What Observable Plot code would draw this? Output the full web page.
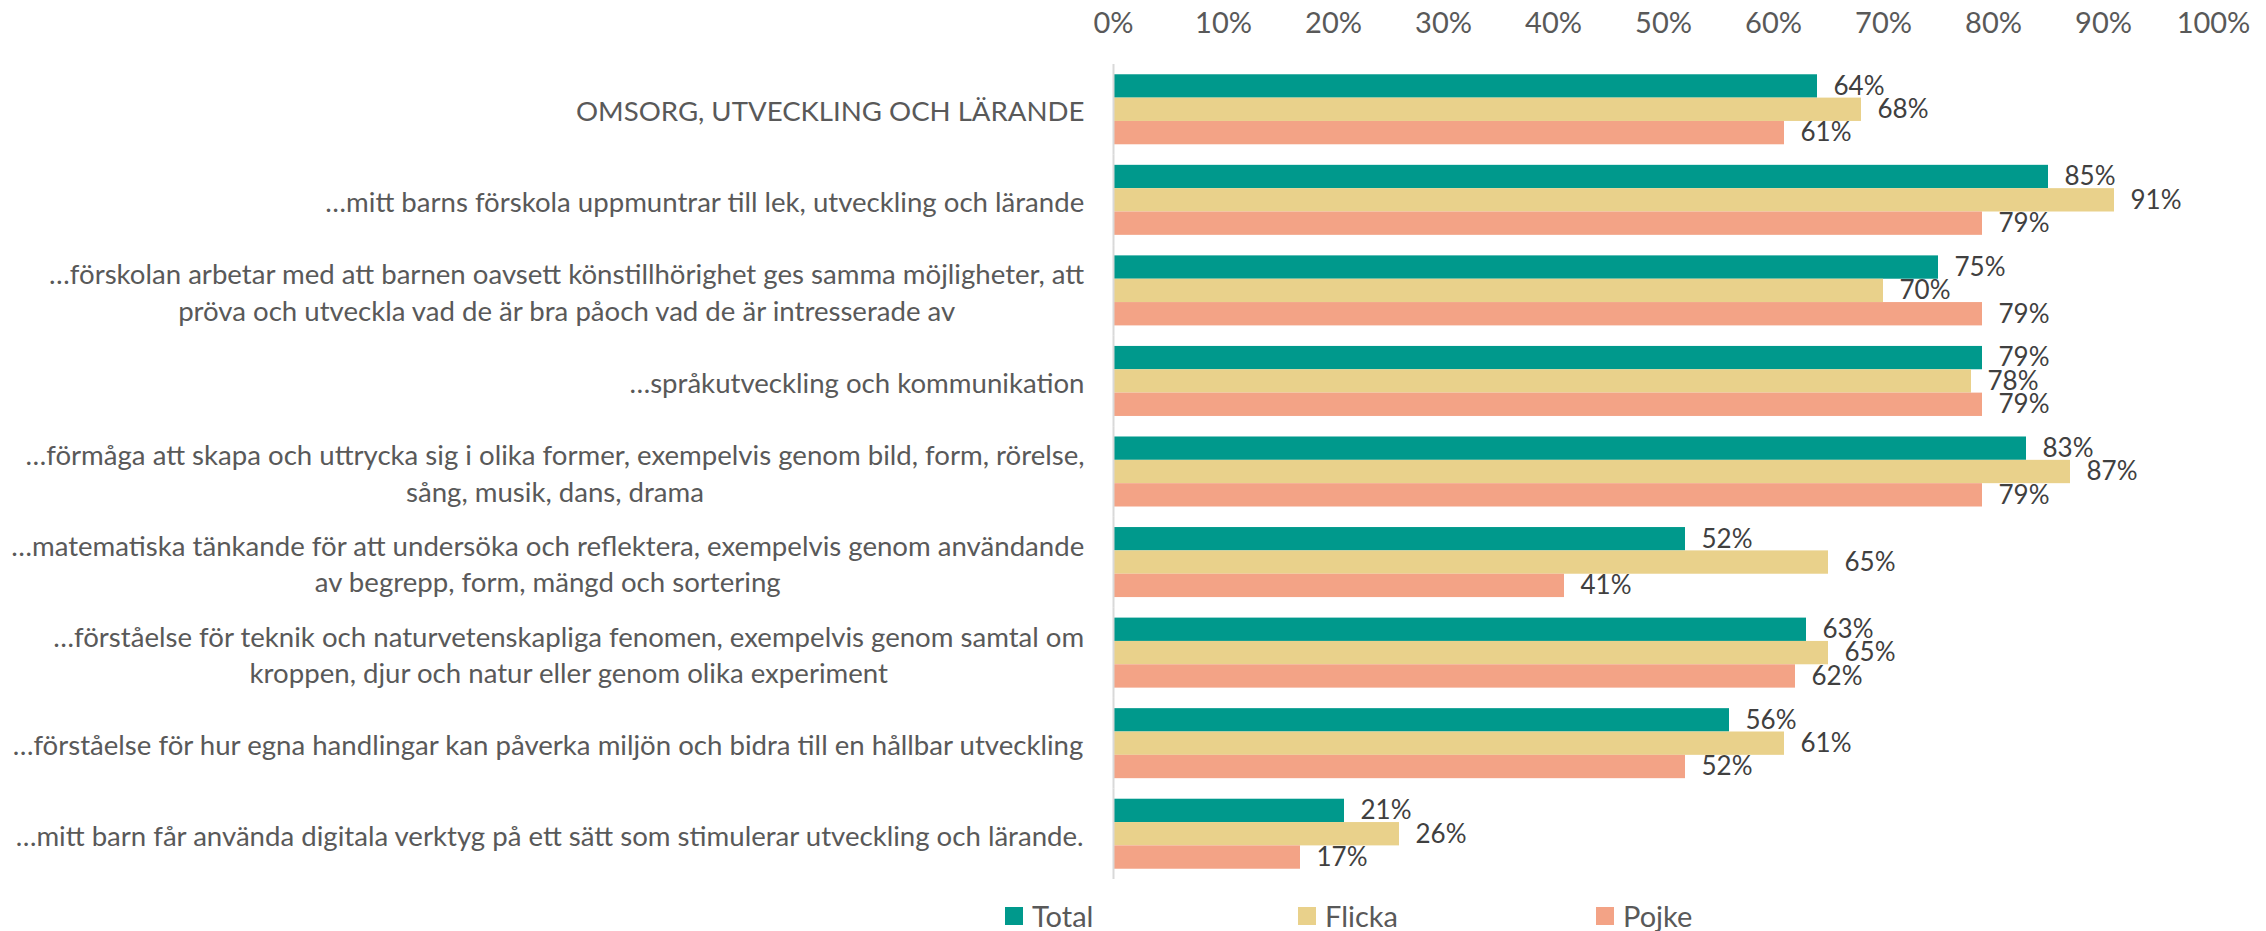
<!DOCTYPE html>
<html>
<head>
<meta charset="utf-8">
<script src="https://cdn.jsdelivr.net/npm/d3@7"></script>
<script src="https://cdn.jsdelivr.net/npm/@observablehq/plot@0.6"></script>
<style>
  html, body { margin: 0; padding: 0; background: #fff; }
  #chart svg { display: block; }
  #legend { position: relative; width: 2266px; height: 36px; font-family: Lato, sans-serif; }
  .item { position: absolute; top: 3px; height: 36px; display: flex; align-items: center; }
  .sw { width: 18px; height: 18px; margin-right: 9px; }
  .lab { font-size: 29px; color: #595959; line-height: 36px; }
</style>
</head>
<body>
<div id="chart"></div>
<div id="legend"></div>
<script>
const categories = [
  "OMSORG, UTVECKLING OCH LÄRANDE",
  "…mitt barns förskola uppmuntrar till lek, utveckling och lärande",
  "…förskolan arbetar med att barnen oavsett könstillhörighet ges samma möjligheter, att\npröva och utveckla vad de är bra påoch vad de är intresserade av",
  "…språkutveckling och kommunikation",
  "…förmåga att skapa och uttrycka sig i olika former, exempelvis genom bild, form, rörelse,\nsång, musik, dans, drama",
  "…matematiska tänkande för att undersöka och reflektera, exempelvis genom användande\nav begrepp, form, mängd och sortering",
  "…förståelse för teknik och naturvetenskapliga fenomen, exempelvis genom samtal om\nkroppen, djur och natur eller genom olika experiment",
  "…förståelse för hur egna handlingar kan påverka miljön och bidra till en hållbar utveckling",
  "…mitt barn får använda digitala verktyg på ett sätt som stimulerar utveckling och lärande."
];
const series = ["Total", "Flicka", "Pojke"];
const totalValues  = [64, 85, 75, 79, 83, 52, 63, 56, 21];
const flickaValues = [68, 91, 70, 78, 87, 65, 65, 61, 26];
const pojkeValues  = [61, 79, 79, 79, 79, 41, 62, 52, 17];
const tickValues = [0, 10, 20, 30, 40, 50, 60, 70, 80, 90, 100];
const colors = ["#00998C", "#E9D18B", "#F3A386"];

const valuesBySeries = [totalValues, flickaValues, pojkeValues];
const rows = [];
categories.forEach((c, i) => {
  series.forEach((s, j) => rows.push({cat: c, series: s, value: valuesBySeries[j][i]}));
});

const FONT = "Lato, sans-serif";
const labelSize = 27.6;
const ctx = document.createElement("canvas").getContext("2d");
ctx.font = `${labelSize}px Lato`;
const blockWidth = c => Math.max(...c.split("\n").map(l => ctx.measureText(l).width));
const gap = 29;

const labelMarks = categories.map(c =>
  Plot.text([c], {
    fy: d => d,
    frameAnchor: "left",
    text: d => d,
    textAnchor: "middle",
    dx: -gap - blockWidth(c) / 2,
    lineHeight: 36.5 / labelSize,
    fontSize: labelSize,
    fill: "#595959"
  })
);

const chart = Plot.plot({
  width: 2266,
  height: 895,
  marginTop: 64,
  marginBottom: 16,
  marginLeft: 1113,
  marginRight: 53,
  style: {fontFamily: FONT, background: "#fff", overflow: "visible"},
  x: {domain: [0, 100]},
  y: {domain: series, padding: 0, axis: null, round: false},
  fy: {domain: categories, paddingInner: 0.2268, paddingOuter: 0.1134, axis: null, round: false},
  color: {domain: series, range: colors},
  marks: [
    Plot.axisX({anchor: "top", ticks: tickValues, tickFormat: d => d + "%", tickSize: 0, tickPadding: 42, fontSize: 29, fill: "#595959", label: null}),
    Plot.barX(rows, {fy: "cat", y: "series", x: "value", fill: "series"}),
    Plot.ruleX([0], {stroke: "#D9D9D9", strokeWidth: 2, insetTop: -10.3, insetBottom: -10.3}),
    Plot.text(rows, {fy: "cat", y: "series", x: "value", text: d => d.value + "%", dx: 16, textAnchor: "start", fontSize: 26, fill: "#404040"}),
    ...labelMarks
  ]
});
document.getElementById("chart").appendChild(chart);

const legendLeft = [1005, 1298, 1596];
const legend = document.getElementById("legend");
series.forEach((s, i) => {
  const item = document.createElement("div");
  item.className = "item";
  item.style.left = legendLeft[i] + "px";
  item.innerHTML = `<div class="sw" style="background:${colors[i]}"></div><span class="lab">${s}</span>`;
  legend.appendChild(item);
});
</script>
</body>
</html>
